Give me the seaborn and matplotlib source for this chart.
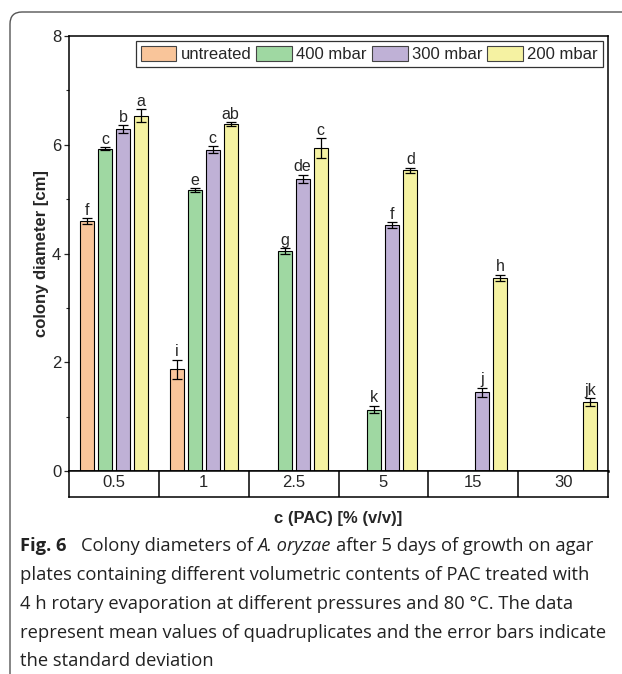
import numpy as np
import pandas as pd
import matplotlib
matplotlib.use("Agg")
import matplotlib.pyplot as plt
import seaborn as sns
from matplotlib.patches import FancyBboxPatch, Patch

# ---------------- data ----------------
categories = ["0.5", "1", "2.5", "5", "15", "30"]
series = ["untreated", "400 mbar", "300 mbar", "200 mbar"]
colors = ["#F9C59A", "#9FD8A2", "#BFB1D6", "#F5F2A2"]
nan = np.nan

untreated = [4.60, 1.87, nan, nan, nan, nan]
mbar400 = [5.93, 5.17, 4.05, 1.13, nan, nan]
mbar300 = [6.29, 5.91, 5.37, 4.52, 1.45, nan]
mbar200 = [6.53, 6.38, 5.94, 5.53, 3.55, 1.27]

sd_untreated = [0.05, 0.18, nan, nan, nan, nan]
sd_400 = [0.03, 0.03, 0.05, 0.07, nan, nan]
sd_300 = [0.07, 0.06, 0.08, 0.06, 0.08, nan]
sd_200 = [0.12, 0.03, 0.18, 0.05, 0.06, 0.07]

let_untreated = ["f", "i", "", "", "", ""]
let_400 = ["c", "e", "g", "k", "", ""]
let_300 = ["b", "c", "de", "f", "j", ""]
let_200 = ["a", "ab", "c", "d", "h", "jk"]

y_ticks = [0, 2, 4, 6, 8]
x_label = "c (PAC) [% (v/v)]"
y_label = "colony diameter [cm]"

rows = []
for s, vals, sds, lets in zip(series,
                              [untreated, mbar400, mbar300, mbar200],
                              [sd_untreated, sd_400, sd_300, sd_200],
                              [let_untreated, let_400, let_300, let_200]):
    for c, v, e, l in zip(categories, vals, sds, lets):
        if not np.isnan(v):
            rows.append(dict(conc=c, group=s, diam=v, sd=e, letter=l))
df = pd.DataFrame(rows)

# ---------------- style ----------------
sns.set_style("ticks")
plt.rcParams["font.family"] = ["Liberation Sans", "DejaVu Sans"]

W, H = 622, 674
fig = plt.figure(figsize=(W / 100, H / 100), dpi=100)

L, R, T, B = 69, 608, 36, 471
ax = fig.add_axes([L / W, 1 - B / H, (R - L) / W, (B - T) / H])

sns.barplot(data=df, x="conc", y="diam", hue="group", order=categories,
            hue_order=series, palette=colors, saturation=1, width=0.8,
            gap=0.22, edgecolor="black", linewidth=0.8, errorbar=None,
            legend=False, ax=ax)

bar_containers = list(ax.containers)
for j, cont in enumerate(bar_containers):
    for p in cont.patches:
        h = p.get_height()
        if np.isnan(h) or h == 0:
            continue
        xc = p.get_x() + p.get_width() / 2
        i = int(round(xc))
        row = df[(df.conc == categories[i]) & (df.group == series[j])].iloc[0]
        ax.errorbar(xc, row.diam, yerr=row.sd, fmt="none", ecolor="black",
                    elinewidth=0.9, capsize=3.6, capthick=0.9, zorder=5)
        ax.annotate(row.letter, (xc, row.diam + row.sd), xytext=(0, 0.3),
                    textcoords="offset points", ha="center", va="bottom",
                    fontsize=11.5)

ax.set_ylim(0, 8)
ax.set_xlim(-0.5, len(categories) - 0.5)
ax.set_yticks(y_ticks)
ax.set_yticks([1, 3, 5, 7], minor=True)
ax.tick_params(axis="y", which="major", length=3.5, width=0.9, labelsize=12, pad=2)
ax.tick_params(axis="y", which="minor", length=2.5, width=0.8)
ax.tick_params(axis="x", bottom=False, labelbottom=False)
ax.set_xlabel("")
ax.set_ylabel(y_label, fontsize=12, fontweight="bold", labelpad=2)
for sp in ax.spines.values():
    sp.set_visible(True)
    sp.set_linewidth(1.1)
    sp.set_color("black")
ax.spines["bottom"].set_linewidth(1.8)

handles = [Patch(facecolor=c, edgecolor="#444444", linewidth=0.8) for c in colors]
leg = ax.legend(handles, series, loc="upper right", ncol=4, frameon=True,
                fancybox=False, edgecolor="black", fontsize=12,
                handlelength=2.15, handleheight=1.0, handletextpad=0.25,
                columnspacing=0.3, borderpad=0.3, borderaxespad=0.3)
leg.get_frame().set_linewidth(0.9)

# ---------------- category table under the axis ----------------
tab = fig.add_axes([L / W, 1 - 497 / H, (R - L) / W, 26 / H])
tab.set_xlim(ax.get_xlim())
tab.set_ylim(0, 1)
tab.set_xticks([])
tab.set_yticks([])
for k in range(len(categories) - 1):
    tab.axvline(k + 0.5, color="black", lw=1.1)
for k, c in enumerate(categories):
    tab.text(k, 0.55, c, ha="center", va="center", fontsize=12)
for sp in tab.spines.values():
    sp.set_visible(True)
    sp.set_linewidth(1.1)
    sp.set_color("black")
tab.set_xlabel(x_label, fontsize=12, fontweight="bold", labelpad=10)

# ---------------- frame ----------------
frame = FancyBboxPatch((0.10, -1.0), 7.0, 6.74 - 0.12 + 1.0,
                       boxstyle="round,pad=0,rounding_size=0.12",
                       transform=fig.dpi_scale_trans, fill=False,
                       edgecolor="#555555", lw=1.0, clip_on=False)
fig.add_artist(frame)

# ---------------- caption ----------------
cap_font = ["Open Sans", "DejaVu Sans"]
renderer = fig.canvas.get_renderer()

def width_px(s, size, weight="normal", style="normal"):
    t = fig.text(0, 0, s, fontsize=size, family=cap_font, fontweight=weight, fontstyle=style)
    w = t.get_window_extent(renderer).width
    t.remove()
    return w

line2 = "plates containing different volumetric contents of PAC treated with"
line3 = "4 h rotary evaporation at different pressures and 80 °C. The data"
line4 = "represent mean values of quadruplicates and the error bars indicate"
size = 12 * 583 / width_px(line4, 12)
space = width_px("a a", size) - width_px("aa", size)

caption = [
    [("Fig. 6", "bold", "normal"), ("  Colony diameters of", "normal", "normal"),
     ("A. oryzae", "normal", "italic"), ("after 5 days of growth on agar", "normal", "normal")],
    [(line2, "normal", "normal")],
    [(line3, "normal", "normal")],
    [(line4, "normal", "normal")],
    [("the standard deviation", "normal", "normal")],
]
line_y = [546, 575, 604, 633, 661]
for runs, yp in zip(caption, line_y):
    x = 20
    for k, (txt, wgt, sty) in enumerate(runs):
        if k > 0:
            x += space
        lead = len(txt) - len(txt.lstrip(" "))
        x += lead * space
        txt = txt.lstrip(" ")
        t = fig.text(x / W, 1 - yp / H, txt, fontsize=size, family=cap_font,
                     fontweight=wgt, fontstyle=sty, va="center", ha="left",
                     color="#222222")
        x += t.get_window_extent(renderer).width

fig.savefig("out.png", dpi=100)
